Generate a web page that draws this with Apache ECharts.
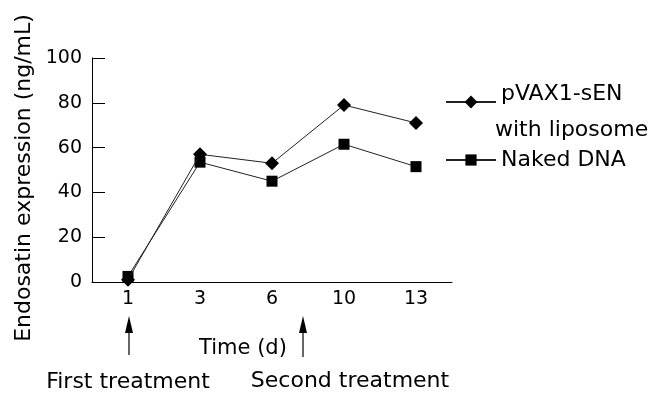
<!DOCTYPE html>
<html>
<head>
<meta charset="utf-8">
<script src="https://cdn.jsdelivr.net/npm/echarts@6/dist/echarts.min.js"></script>
<style>html,body{margin:0;padding:0;background:#fff}#c{width:658px;height:406px}</style>
</head>
<body>
<div id="c"></div>
<script>
var categories = ['1', '3', '6', '10', '13'];
var liposome = [1, 57, 53, 79, 71];
var naked = [2.5, 53.5, 45, 61.5, 51.5];
var yTicks = [0, 20, 40, 60, 80, 100];
var seriesNames = ['pVAX1-sEN', 'Naked DNA'];

var FONT = 'DejaVu Sans';
var chart = echarts.init(document.getElementById('c'), null, {renderer: 'canvas'});

var option = {
  backgroundColor: '#fff',
  animation: false,
  textStyle: {fontFamily: FONT, color: '#000'},
  grid: {left: 92, right: 206, top: 58, bottom: 124, containLabel: false},
  legend: [{
    data: [seriesNames[0]],
    left: 440, top: 78, orient: 'vertical',
    itemWidth: 50, itemHeight: 16,
    formatter: function (n) { return n + '\n'; },
    textStyle: {fontFamily: FONT, fontSize: 22, color: '#000', lineHeight: 16},
    selectedMode: false
  }, {
    data: [seriesNames[1]],
    left: 440, top: 144, orient: 'vertical',
    itemWidth: 50, itemHeight: 14,
    textStyle: {fontFamily: FONT, fontSize: 22, color: '#000'},
    selectedMode: false
  }],
  xAxis: {
    type: 'category',
    data: categories,
    boundaryGap: true,
    name: 'Time (d)',
    nameLocation: 'middle',
    nameGap: 56,
    nameTextStyle: {fontFamily: FONT, fontSize: 21, color: '#000', padding: [0, 58, 0, 0]},
    axisLine: {lineStyle: {color: '#000', width: 1}},
    axisTick: {inside: true, length: 10, alignWithLabel: false, lineStyle: {color: '#000'}},
    axisLabel: {fontFamily: FONT, fontSize: 19, color: '#000', margin: 8},
    splitLine: {show: false}
  },
  yAxis: {
    type: 'value',
    min: 0, max: 100, interval: 20,
    name: 'Endosatin expression (ng/mL)',
    nameLocation: 'middle',
    nameGap: 49,
    nameTextStyle: {fontFamily: FONT, fontSize: 22, color: '#000', padding: [0, 16, 0, 0]},
    axisLine: {show: true, lineStyle: {color: '#000', width: 1}},
    axisTick: {show: true, inside: true, length: 13, lineStyle: {color: '#000'}},
    axisLabel: {fontFamily: FONT, fontSize: 19, color: '#000', margin: 10,
      formatter: function (v) { return yTicks.indexOf(v) >= 0 ? String(v) : ''; }},
    splitLine: {show: false}
  },
  series: [{
    name: seriesNames[0],
    type: 'line',
    data: liposome,
    symbol: 'diamond',
    symbolSize: 14,
    lineStyle: {color: '#222', width: 1},
    itemStyle: {color: '#000'},
    z: 3
  }, {
    name: seriesNames[1],
    type: 'line',
    data: naked,
    symbol: 'rect',
    symbolSize: 11,
    lineStyle: {color: '#222', width: 1},
    itemStyle: {color: '#000'},
    z: 2
  }],
  graphic: [
    {type: 'text', x: 495, y: 130, style: {text: 'with liposome', font: '22px "DejaVu Sans"', fill: '#000', verticalAlign: 'middle'}},
    {type: 'line', shape: {x1: 129, y1: 330, x2: 129, y2: 355}, style: {stroke: '#000', lineWidth: 1.2}},
    {type: 'polygon', shape: {points: [[129, 316], [125, 333], [133, 333]]}, style: {fill: '#000'}},
    {type: 'line', shape: {x1: 303, y1: 330, x2: 303, y2: 357}, style: {stroke: '#000', lineWidth: 1.2}},
    {type: 'polygon', shape: {points: [[303, 316], [299, 333], [307, 333]]}, style: {fill: '#000'}},
    {type: 'text', x: 128, y: 382, style: {text: 'First treatment', font: '22px "DejaVu Sans"', fill: '#000', align: 'center', verticalAlign: 'middle'}},
    {type: 'text', x: 350, y: 381, style: {text: 'Second treatment', font: '22px "DejaVu Sans"', fill: '#000', align: 'center', verticalAlign: 'middle'}}
  ]
};
chart.setOption(option);
</script>
</body>
</html>
